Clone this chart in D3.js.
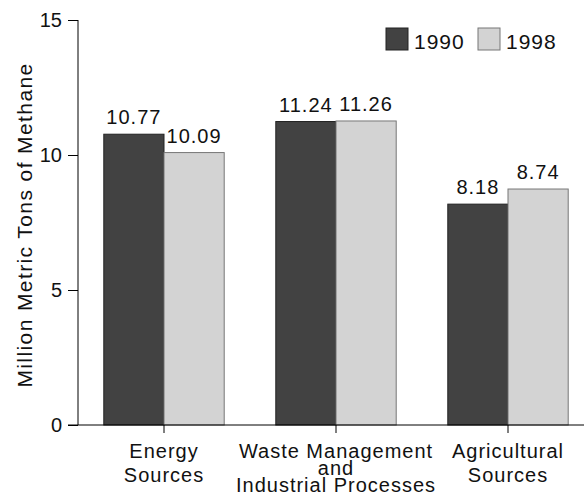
<!doctype html>
<html lang="en">
<head>
<meta charset="UTF-8">
<title>Methane</title>
<style>
  body { margin: 0; background: #fff; }
  text { font-family: "Liberation Sans", Arial, Helvetica, sans-serif; fill: #111; }
</style>
</head>
<body>
<script src="https://cdn.jsdelivr.net/npm/d3@7"></script>
<script>
// data
var categories = [["Energy", "Sources"], ["Waste Management", "and", "Industrial Processes"], ["Agricultural", "Sources"]];
var seriesNames = ["1990", "1998"];
var values1990 = [10.77, 11.24, 8.18];
var values1998 = [10.09, 11.26, 8.74];
var yTicks = [0, 5, 10, 15];
var colors = ["#424242", "#d3d3d3"];
var strokes = ["#222", "#777"];

var W = 584, H = 493;
var svg = d3.select("body").append("svg").attr("width", W).attr("height", H);

var y = d3.scaleLinear().domain([0, 15]).range([425, 20]);
var x0 = d3.scaleBand().domain(d3.range(categories.length)).range([78, 594])
  .paddingInner(0.3).paddingOuter(0.15);
var x1 = d3.scaleBand().domain(seriesNames).range([0, x0.bandwidth()]);

var rows = [values1990, values1998];

// bars + value labels
seriesNames.forEach(function(s, si) {
  svg.selectAll(".bar" + si).data(rows[si]).enter().append("rect")
    .attr("x", function(d, i) { return x0(i) + x1(s); })
    .attr("y", function(d) { return y(d); })
    .attr("width", x1.bandwidth())
    .attr("height", function(d) { return y(0) - y(d); })
    .attr("fill", colors[si])
    .attr("stroke", strokes[si])
    .attr("stroke-width", 1);
  svg.selectAll(".lab" + si).data(rows[si]).enter().append("text")
    .attr("x", function(d, i) { return x0(i) + x1(s) + x1.bandwidth() / 2; })
    .attr("y", function(d) { return y(d) - 10; })
    .attr("text-anchor", "middle")
    .style("font-size", "20px").style("letter-spacing", "1px")
    .text(function(d) { return d.toFixed(2); });
});

// y axis
var yAxis = d3.axisLeft(y).tickValues(yTicks).tickSize(10).tickPadding(6);
var gy = svg.append("g").attr("transform", "translate(78,0)").call(yAxis);
gy.select(".domain").attr("d", "M0,20V425");
gy.selectAll("text").style("font-size", "20px").attr("fill", "#111");
gy.selectAll("line,path").attr("stroke", "#000");

// x axis line + ticks
svg.append("line").attr("x1", 68).attr("x2", W).attr("y1", 425).attr("y2", 425).attr("stroke", "#000");
categories.forEach(function(c, i) {
  var cx = x0(i) + x0.bandwidth() / 2;
  svg.append("line").attr("x1", cx).attr("x2", cx).attr("y1", 425).attr("y2", 433).attr("stroke", "#000");
  var gap = c.length > 2 ? 17 : 24;
  var t = svg.append("text").attr("text-anchor", "middle")
    .style("font-size", "20px").style("letter-spacing", "1px");
  c.forEach(function(line, li) {
    t.append("tspan").attr("x", cx).attr("y", 458 + li * gap).text(line);
  });
});

// y title
svg.append("text")
  .attr("transform", "translate(32,225) rotate(-90)")
  .attr("text-anchor", "middle")
  .style("font-size", "21px").style("letter-spacing", "1.4px")
  .text("Million Metric Tons of Methane");

// legend
var legX = [386, 478];
seriesNames.forEach(function(s, si) {
  svg.append("rect").attr("x", legX[si]).attr("y", 28).attr("width", 22).attr("height", 22)
    .attr("fill", colors[si]).attr("stroke", strokes[si]);
  svg.append("text").attr("x", legX[si] + 28).attr("y", 49)
    .style("font-size", "21px").style("letter-spacing", "1px").text(s);
});
</script>
</body>
</html>
